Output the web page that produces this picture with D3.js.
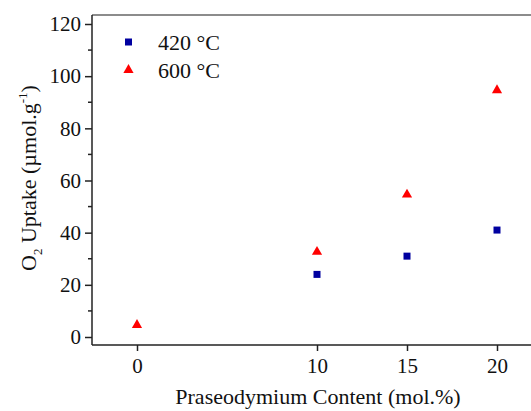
<!DOCTYPE html>
<meta charset="utf-8">
<style>
body { margin: 0; background: #fff; }
text { font-family: "Liberation Serif", "Times New Roman", serif; fill: #111; }
.axis path, .axis line { stroke: #222; stroke-width: 1.5; }
</style>
<body>
<script src="https://cdn.jsdelivr.net/npm/d3@7"></script>
<script>

// data
var pr420 = [10, 15, 20],
    up420 = [24, 31, 41];
var pr600 = [0, 10, 15, 20],
    up600 = [5, 33, 55, 95];
var xTicks = [0, 10, 15, 20],
    yTicks = [0, 20, 40, 60, 80, 100, 120],
    yMinor = [10, 30, 50, 70, 90, 110];
var series = ["420 °C", "600 °C"];

var W = 531, H = 411;
var margin = {top: 15, left: 92},
    bottom = 345;

var x = d3.scaleLinear().domain([0, 10]).range([137, 317]);
var y = d3.scaleLinear().domain([0, 120]).range([337, 24]);

var svg = d3.select("body").append("svg")
    .attr("width", W)
    .attr("height", H);

// top frame line (plot continues past the right edge)
svg.append("line")
    .attr("x1", margin.left).attr("x2", W + 5)
    .attr("y1", margin.top).attr("y2", margin.top)
    .attr("stroke", "#666").attr("stroke-width", 1.5);

// x axis
var xg = svg.append("g")
    .attr("class", "axis")
    .attr("transform", "translate(0," + bottom + ")");
xg.append("line")
    .attr("x1", margin.left).attr("x2", W + 5)
    .attr("stroke", "#222").attr("stroke-width", 1.5);
xg.call(d3.axisBottom(x).tickValues(xTicks).tickSize(6).tickPadding(7).tickFormat(d3.format("d")))
  .attr("font-family", null).attr("font-size", null)
  .select(".domain").remove();
xg.selectAll("text").style("font-size", "21px");

// y axis
var yg = svg.append("g")
    .attr("class", "axis")
    .attr("transform", "translate(" + margin.left + ",0)");
yg.append("line")
    .attr("y1", margin.top).attr("y2", bottom)
    .attr("stroke", "#222").attr("stroke-width", 1.5);
yg.call(d3.axisLeft(y).tickValues(yTicks).tickSize(7).tickPadding(4))
  .attr("font-family", null).attr("font-size", null)
  .select(".domain").remove();
yg.selectAll("text").style("font-size", "21px");
yg.selectAll(".minor")
    .data(yMinor)
  .enter().append("line")
    .attr("class", "minor")
    .attr("x1", -4).attr("x2", 0)
    .attr("y1", y).attr("y2", y);

// points
var tri = d3.symbol().type(d3.symbolTriangle).size(45);
svg.selectAll(".sq")
    .data(pr420)
  .enter().append("rect")
    .attr("class", "sq")
    .attr("x", function(d) { return x(d) - 3.5; })
    .attr("y", function(d, i) { return y(up420[i]) - 3.5; })
    .attr("width", 7).attr("height", 7)
    .attr("fill", "#0000a0");
svg.selectAll(".tri")
    .data(pr600)
  .enter().append("path")
    .attr("class", "tri")
    .attr("d", tri)
    .attr("transform", function(d, i) { return "translate(" + x(d) + "," + (y(up600[i]) + 1) + ")"; })
    .attr("fill", "#ff0000");

// legend
var legend = svg.append("g");
legend.append("rect")
    .attr("x", 125).attr("y", 38.5).attr("width", 7).attr("height", 7)
    .attr("fill", "#0000a0");
legend.append("path")
    .attr("d", tri)
    .attr("transform", "translate(128.5,70)")
    .attr("fill", "#ff0000");
legend.selectAll("text")
    .data(series)
  .enter().append("text")
    .attr("x", 158)
    .attr("y", function(d, i) { return 50 + i * 28; })
    .style("font-size", "22px")
    .text(function(d) { return d; });

// axis titles
svg.append("text")
    .attr("x", 318).attr("y", 404)
    .attr("text-anchor", "middle")
    .style("font-size", "22px")
    .text("Praseodymium Content (mol.%)");

var yt = svg.append("text")
    .attr("transform", "translate(36,178) rotate(-90)")
    .attr("text-anchor", "middle")
    .style("font-size", "22px");
yt.append("tspan").text("O");
yt.append("tspan").attr("dy", 6).style("font-size", "13px").text("2");
yt.append("tspan").attr("dy", -6).text(" Uptake (µmol.g");
yt.append("tspan").attr("dy", -9).style("font-size", "13px").text("-1");
yt.append("tspan").attr("dy", 9).text(")");

</script>
</body>
